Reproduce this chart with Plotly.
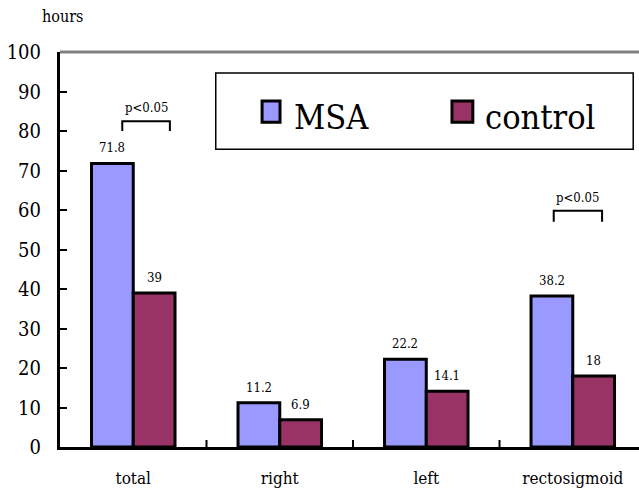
import plotly.graph_objects as go

# Colonic transit time by segment
categories = ["total", "right", "left", "rectosigmoid"]
msa_hours = [71.8, 11.2, 22.2, 38.2]
control_hours = [39, 6.9, 14.1, 18]
msa_labels = ["71.8", "11.2", "22.2", "38.2"]
control_labels = ["39", "6.9", "14.1", "18"]
series_names = ["MSA", "control"]
series_colors = ["#9999FF", "#993366"]
y_ticks = [0, 10, 20, 30, 40, 50, 60, 70, 80, 90, 100]

FONT = "DejaVu Serif Condensed"
BARGAP = 0.43
half = (1 - BARGAP) / 4  # offset of each bar centre from the category centre

fig = go.Figure()
for name, vals, color in zip(series_names, [msa_hours, control_hours], series_colors):
    fig.add_trace(go.Bar(
        x=list(range(len(categories))), y=vals, name=name,
        marker=dict(color=color, line=dict(color="black", width=3)),
        showlegend=False,
    ))

annotations = []
# value labels above each bar
for i in range(len(categories)):
    for off, vals, labels in [(-half, msa_hours, msa_labels), (half, control_hours, control_labels)]:
        annotations.append(dict(
            x=i + off, y=vals[i], xref="x", yref="y", text=labels[i],
            showarrow=False, xanchor="center", yanchor="bottom", yshift=6,
            font=dict(family=FONT, size=13, color="black"),
        ))

# significance brackets
brackets = [(-0.075, 0.25, 80, 82.5), (2.87, 3.2, 57, 59.8)]
shapes = []
for x0, x1, yb, yt in brackets:
    shapes.append(dict(type="path", xref="x", yref="y",
                       path=f"M {x0},{yb} L {x0},{yt} L {x1},{yt} L {x1},{yb}",
                       line=dict(color="black", width=2)))
    annotations.append(dict(x=(x0 + x1) / 2, y=yt, xref="x", yref="y", text="p<0.05",
                            showarrow=False, xanchor="center", yanchor="bottom", yshift=4,
                            font=dict(family=FONT, size=13, color="black")))

# top border of the plot area
shapes.append(dict(type="line", xref="paper", yref="paper", x0=0, x1=1, y0=1, y1=1,
                   line=dict(color="#808080", width=3)))

# legend box drawn by hand
shapes.append(dict(type="rect", xref="paper", yref="paper", x0=0.269, x1=0.990,
                   y0=0.754, y1=0.947, line=dict(color="black", width=1.5),
                   fillcolor="white"))
legend_pos = [(0.349, 0.380, 0.401), (0.677, 0.713, 0.731)]
for (mx0, mx1, tx), name, color in zip(legend_pos, series_names, series_colors):
    shapes.append(dict(type="rect", xref="paper", yref="paper", x0=mx0, x1=mx1,
                       y0=0.822, y1=0.876, line=dict(color="black", width=3),
                       fillcolor=color))
    annotations.append(dict(x=tx, y=0.835, xref="paper", yref="paper", text=name,
                            showarrow=False, xanchor="left", yanchor="middle",
                            font=dict(family=FONT, size=34, color="black")))

# axis unit above the y axis
annotations.append(dict(x=(62 - 60) / 579, y=(447 - 17) / 395, xref="paper", yref="paper",
                        text="hours", showarrow=False, xanchor="center", yanchor="middle",
                        font=dict(family=FONT, size=16, color="black")))

fig.update_layout(
    width=639, height=495,
    margin=dict(l=60, r=0, t=52, b=48),
    paper_bgcolor="white", plot_bgcolor="white",
    barmode="group", bargap=BARGAP, bargroupgap=0,
    font=dict(family=FONT, color="black"),
    shapes=shapes, annotations=annotations,
    xaxis=dict(
        tickmode="array", tickvals=list(range(len(categories))), ticktext=categories,
        range=[-0.5, 3.452], showgrid=False, zeroline=False,
        showline=True, linecolor="black", linewidth=3,
        ticks="", tickfont=dict(family=FONT, size=17, color="black"),
        ticklabelstandoff=14,
    ),
    yaxis=dict(
        range=[0, 100], tickvals=y_ticks, showgrid=False, zeroline=False,
        showline=True, linecolor="black", linewidth=3,
        ticks="inside", ticklen=7, tickwidth=2, tickcolor="black",
        tickfont=dict(family=FONT, size=20, color="black"), ticklabelstandoff=12,
    ),
)

# tick marks between categories on the x axis
for b in [0.5, 1.5, 2.5]:
    fig.add_shape(type="line", xref="x", yref="paper", x0=b, x1=b, y0=0, y1=7 / 395,
                  line=dict(color="black", width=2))

fig.write_html("out.html")
